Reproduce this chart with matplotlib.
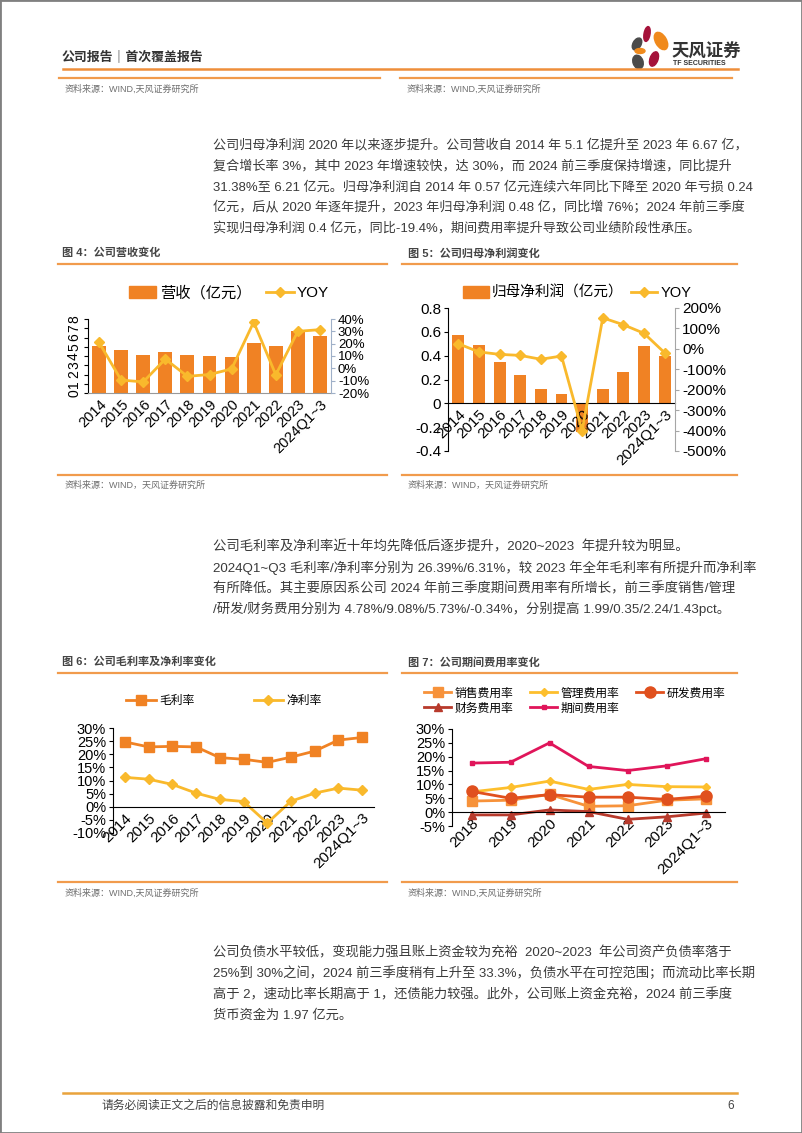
import numpy as np
import matplotlib.pyplot as plt
from matplotlib.patches import Patch, Ellipse, Rectangle
from matplotlib.lines import Line2D
from matplotlib.ticker import FuncFormatter

W, H = 802, 1133
plt.rcParams['font.family'] = ['Liberation Sans', 'Noto Sans CJK SC']
plt.rcParams['axes.unicode_minus'] = False

# data
years = ['2014', '2015', '2016', '2017', '2018', '2019', '2020',
         '2021', '2022', '2023', '2024Q1~3']
revenue = [5.1, 4.6, 4.1, 4.45, 4.15, 3.95, 3.93, 5.4, 5.13, 6.67, 6.21]
revenue_yoy = [21, -9.5, -11, 7.5, -6.5, -5, -0.5, 37.5, -5.2, 30, 31.38]
profit = [0.57, 0.49, 0.35, 0.24, 0.12, 0.08, -0.24, 0.12, 0.26, 0.48, 0.40]
profit_yoy = [25, -15, -27, -32, -51, -35, -400, 152, 118, 76, -19.4]
gross_margin = [24.7, 22.8, 23.0, 22.8, 18.7, 18.1, 16.9, 18.9, 21.2, 25.4, 26.39]
net_margin = [11.2, 10.5, 8.5, 5.2, 2.8, 2.0, -6.2, 2.1, 5.2, 7.1, 6.31]

fee_years = ['2018', '2019', '2020', '2021', '2022', '2023', '2024Q1~3']
sales_rate = [4.0, 4.3, 6.4, 2.1, 2.3, 4.3, 4.78]
admin_rate = [7.3, 8.9, 11.2, 8.2, 10.0, 9.2, 9.08]
rd_rate = [7.5, 5.0, 6.3, 5.4, 5.4, 4.6, 5.73]
fin_rate = [-1.0, -1.0, 0.8, 0.2, -2.6, -1.7, -0.34]
period_rate = [17.7, 18.0, 25.0, 16.5, 15.0, 16.7, 19.25]

para1 = ['公司归母净利润 2020 年以来逐步提升。公司营收自 2014 年 5.1 亿提升至 2023 年 6.67 亿，',
         '复合增长率 3%，其中 2023 年增速较快，达 30%，而 2024 前三季度保持增速，同比提升',
         '31.38%至 6.21 亿元。归母净利润自 2014 年 0.57 亿元连续六年同比下降至 2020 年亏损 0.24',
         '亿元，后从 2020 年逐年提升，2023 年归母净利润 0.48 亿，同比增 76%；2024 年前三季度',
         '实现归母净利润 0.4 亿元，同比-19.4%，期间费用率提升导致公司业绩阶段性承压。']
para2 = ['公司毛利率及净利率近十年均先降低后逐步提升，2020~2023  年提升较为明显。',
         '2024Q1~Q3 毛利率/净利率分别为 26.39%/6.31%，较 2023 年全年毛利率有所提升而净利率',
         '有所降低。其主要原因系公司 2024 年前三季度期间费用率有所增长，前三季度销售/管理',
         '/研发/财务费用分别为 4.78%/9.08%/5.73%/-0.34%，分别提高 1.99/0.35/2.24/1.43pct。']
para3 = ['公司负债水平较低，变现能力强且账上资金较为充裕  2020~2023  年公司资产负债率落于',
         '25%到 30%之间，2024 前三季度稍有上升至 33.3%，负债水平在可控范围；而流动比率长期',
         '高于 2，速动比率长期高于 1，还债能力较强。此外，公司账上资金充裕，2024 前三季度',
         '货币资金为 1.97 亿元。']

ORANGE = '#F08224'
YEL = '#F9B92C'
LINE_OR = '#F19B4C'
TXT = '#3A3A3A'
GREY = '#6E6E6E'

fig = plt.figure(figsize=(W / 100, H / 100), dpi=100)
renderer = fig.canvas.get_renderer()


def fx(x):
    return x / W


def fy(y):
    return 1 - y / H


def put(x, y, s, size, **kw):
    kw.setdefault('color', TXT)
    return fig.text(fx(x), fy(y), s, fontsize=size, va='center', **kw)


def hline(x0, x1, y, color=LINE_OR, lw=1.6):
    fig.add_artist(Line2D([fx(x0), fx(x1)], [fy(y), fy(y)], color=color, lw=lw))


def axes_px(l, t, r, b):
    return fig.add_axes([fx(l), fy(b), (r - l) / W, (b - t) / H])


def paragraph(lines, y0, full, step=20.7, x0=213, width=532, size=10):
    # one font size per paragraph, chosen so the full lines fill the column
    texts = [put(x0, y0 + i * step, s, size) for i, s in enumerate(lines)]
    r = np.median([width / texts[i].get_window_extent(renderer).width for i in full])
    for t in texts:
        t.set_fontsize(size * r)


pct = FuncFormatter(lambda v, p: f'{v:.0f}%')

# page frame, header, logo
fig.add_artist(Rectangle((0, 0), 1, 1, transform=fig.transFigure, fill=False,
                         ec='#808080', lw=2))
put(62, 57, '公司报告｜首次覆盖报告', 9.3, weight='bold', color='#333333')
hline(63, 738, 68.5, color='#EE8E3A', lw=1.8)

lg = axes_px(624, 22, 674, 74)
lg.set_xlim(624, 674)
lg.set_ylim(74, 22)
lg.axis('off')
for cx, cy, w, h, a, c in [(647, 34, 6, 15, 10, '#A5123A'),
                           (661, 41, 11, 19, -30, '#F08A1C'),
                           (637, 44, 8, 13, 30, '#4A4A4A'),
                           (640, 51, 10, 5, 0, '#F08A1C'),
                           (654, 59, 8, 15, 20, '#A5123A'),
                           (638, 62, 10, 14, -20, '#4A4A4A')]:
    lg.add_patch(Ellipse((cx, cy), w, h, angle=a, color=c))
put(672, 51, '天风证券', 12.5, weight='bold', color='#333333')
put(673, 63.5, 'TF SECURITIES', 5, weight='bold', color='#333333')

# leftover of previous charts
hline(59, 380, 78)
hline(400, 732, 78)
put(65, 89, '资料来源：WIND,天风证券研究所', 6.5, color=GREY)
put(407, 89, '资料来源：WIND,天风证券研究所', 6.5, color=GREY)

paragraph(para1, 145.5, full=[0, 1, 2, 3])
paragraph(para2, 547, full=[1, 2])
paragraph(para3, 953, full=[1, 2])

# figure titles and frames
put(62, 253, '图 4：公司营收变化', 8, weight='bold', color='#444444')
put(408, 253, '图 5：公司归母净利润变化', 8, weight='bold', color='#444444')
hline(58, 387, 264)
hline(402, 737, 264)
hline(58, 387, 475)
hline(402, 737, 475)
put(65, 485, '资料来源：WIND，天风证券研究所', 6.5, color=GREY)
put(408, 485, '资料来源：WIND，天风证券研究所', 6.5, color=GREY)

put(62, 662, '图 6：公司毛利率及净利率变化', 8, weight='bold', color='#444444')
put(408, 662, '图 7：公司期间费用率变化', 8, weight='bold', color='#444444')
hline(58, 387, 673)
hline(402, 737, 673)
hline(58, 387, 882)
hline(402, 737, 882)
put(65, 893, '资料来源：WIND,天风证券研究所', 6.5, color=GREY)
put(408, 893, '资料来源：WIND,天风证券研究所', 6.5, color=GREY)

# footer
hline(63, 737, 1093, color='#E9A33C', lw=1.8)
put(102, 1106, '请务必阅读正文之后的信息披露和免责申明', 8.5, color='#444444')
put(727, 1106, '6', 8.5, color='#444444')

x = np.arange(len(years))
xf = np.arange(len(fee_years))


def style_x(ax, labels, size, at_zero=False):
    if at_zero:
        ax.spines['bottom'].set_position(('data', 0))
    ax.set_xticks(np.arange(len(labels)))
    ax.set_xticklabels(labels, rotation=45, ha='right', rotation_mode='anchor',
                       fontsize=size)
    ax.tick_params(axis='x', length=0, pad=3)
    ax.set_xlim(-0.5, len(labels) - 0.5)
    ax.spines['top'].set_visible(False)
    ax.spines['right'].set_visible(False)


# chart 4: revenue
ax1 = axes_px(88, 319, 331, 393)
ax1.bar(x, revenue, width=0.63, color=ORANGE)
ax1.set_ylim(0, 8)
ax1.set_yticks(range(0, 9))
ax1.tick_params(axis='y', labelsize=10, length=3, pad=2)
for t in ax1.get_yticklabels():
    t.set_rotation(90)
    t.set_va('center')
style_x(ax1, years, 10.5)
ax1.spines['bottom'].set_color('#999999')
ax1r = ax1.twinx()
ax1r.plot(x, revenue_yoy, color=YEL, lw=2, marker='D', ms=5)
ax1r.set_ylim(-20, 40)
ax1r.set_yticks(range(-20, 41, 10))
ax1r.yaxis.set_major_formatter(pct)
ax1r.tick_params(axis='y', labelsize=9.5, length=3, pad=2, color='#9FB0C8')
for s in ['top', 'left', 'bottom']:
    ax1r.spines[s].set_visible(False)
ax1r.spines['right'].set_color('#9FB0C8')
fig.legend([Patch(color=ORANGE), Line2D([], [], color=YEL, lw=2, marker='D', ms=5)],
           ['营收（亿元）', 'YOY'], loc='center', ncol=2, frameon=False,
           bbox_to_anchor=(fx(229), fy(293)), fontsize=11, handlelength=1.8,
           handleheight=0.9, handletextpad=0.2, columnspacing=1.0)

# chart 5: net profit
ax2 = axes_px(448, 308, 675, 451)
ax2.bar(x, profit, width=0.58, color=ORANGE)
ax2.set_ylim(-0.4, 0.8)
ax2.set_yticks(np.arange(-0.4, 0.81, 0.2))
ax2.set_yticklabels(['-0.4', '-0.2', '0', '0.2', '0.4', '0.6', '0.8'])
ax2.tick_params(axis='y', labelsize=11, length=3, pad=2)
style_x(ax2, years, 11, at_zero=True)
ax2r = ax2.twinx()
ax2r.plot(x, profit_yoy, color=YEL, lw=2, marker='D', ms=5)
ax2r.set_ylim(-500, 200)
ax2r.set_yticks(range(-500, 201, 100))
ax2r.yaxis.set_major_formatter(pct)
ax2r.tick_params(axis='y', labelsize=11, length=3, pad=2, color='#A6A6A6')
for s in ['top', 'left', 'bottom']:
    ax2r.spines[s].set_visible(False)
ax2r.spines['right'].set_color('#A6A6A6')
fig.legend([Patch(color=ORANGE), Line2D([], [], color=YEL, lw=2, marker='D', ms=5)],
           ['归母净利润（亿元）', 'YOY'], loc='center', ncol=2, frameon=False,
           bbox_to_anchor=(fx(577), fy(293)), fontsize=10.5, handlelength=1.8,
           handleheight=0.9, handletextpad=0.2, columnspacing=0.5)

# chart 6: margins
ax3 = axes_px(113, 728, 374, 833)
ax3.plot(x, gross_margin, color=ORANGE, lw=2, marker='s', ms=7, label='毛利率')
ax3.plot(x, net_margin, color=YEL, lw=2, marker='D', ms=5, label='净利率')
ax3.set_ylim(-10, 30)
ax3.set_yticks(range(-10, 31, 5))
ax3.yaxis.set_major_formatter(pct)
ax3.tick_params(axis='y', labelsize=10.5, length=3, pad=2)
style_x(ax3, years, 11, at_zero=True)
ax3.legend(loc='center', ncol=2, frameon=False, bbox_to_anchor=(fx(224), fy(701)),
           bbox_transform=fig.transFigure, fontsize=8.5, handlelength=2.5,
           handletextpad=0.3, columnspacing=5.0)

# chart 7: expense ratios
ax4 = axes_px(452, 729, 725, 826)
ax4.plot(xf, period_rate, color='#E0155A', lw=2, marker='s', ms=3, label='期间费用率')
ax4.plot(xf, admin_rate, color='#FDBF2D', lw=2, marker='D', ms=4.5, label='管理费用率')
ax4.plot(xf, sales_rate, color='#F7923A', lw=2, marker='s', ms=7, label='销售费用率')
ax4.plot(xf, rd_rate, color='#E0501E', lw=2, marker='o', ms=8, label='研发费用率')
ax4.plot(xf, fin_rate, color='#B83A2C', lw=2, marker='^', ms=6, label='财务费用率')
ax4.set_ylim(-5, 30)
ax4.set_yticks(range(-5, 31, 5))
ax4.yaxis.set_major_formatter(pct)
ax4.tick_params(axis='y', labelsize=10.5, length=3, pad=2)
style_x(ax4, fee_years, 11, at_zero=True)
h, l = ax4.get_legend_handles_labels()
order = [2, 4, 1, 0, 3]
ax4.legend([h[i] for i in order], [l[i] for i in order], loc='center', ncol=3,
           frameon=False, bbox_to_anchor=(fx(575), fy(701)),
           bbox_transform=fig.transFigure, fontsize=8.5, handlelength=2.3,
           handletextpad=0.3, columnspacing=1.4, labelspacing=0.25)

fig.savefig('out.png', dpi=100)
